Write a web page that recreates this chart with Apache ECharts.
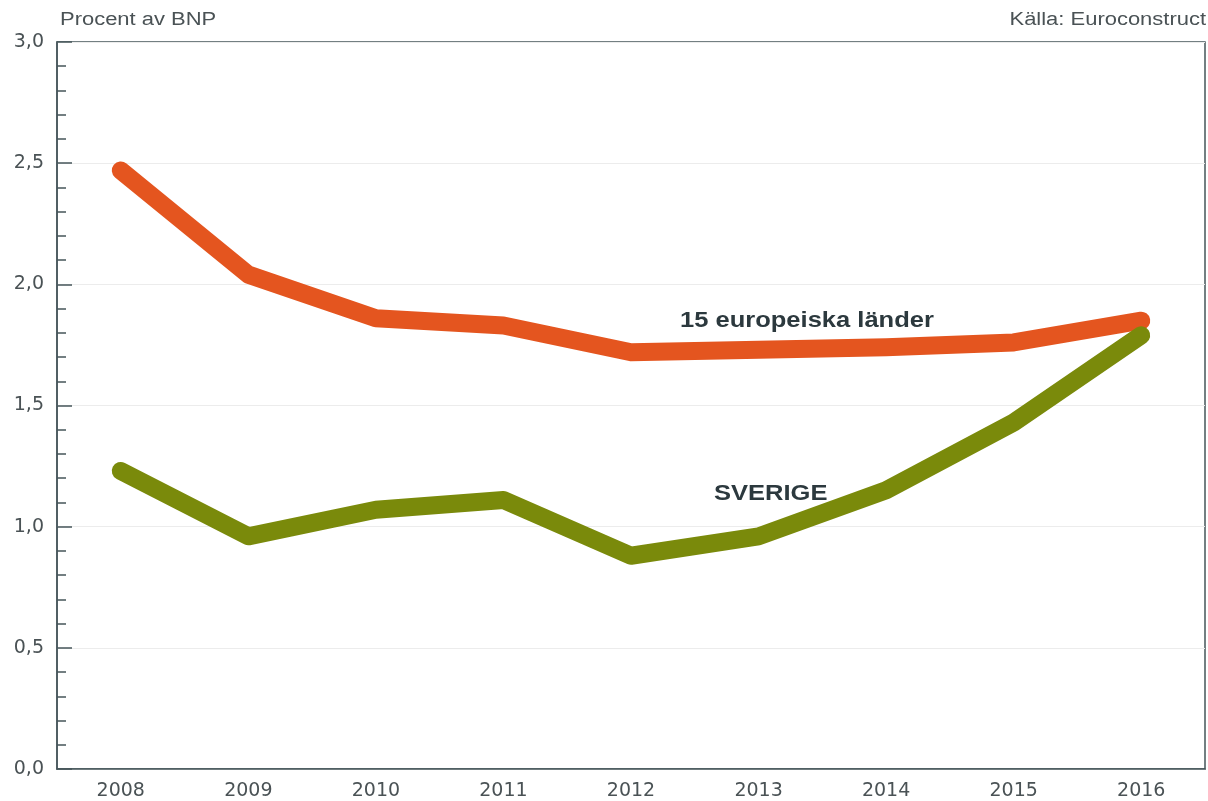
<!DOCTYPE html>
<html>
<head>
<meta charset="utf-8">
<script src="https://cdn.jsdelivr.net/npm/echarts@6/dist/echarts.min.js"></script>
<style>
  html, body { margin: 0; padding: 0; background: #fff; }
  #chart { width: 1208px; height: 801px; }
</style>
</head>
<body>
<div id="chart"></div>
<script>
// Byggnadsinvesteringar, procent av BNP
const years = ['2008', '2009', '2010', '2011', '2012', '2013', '2014', '2015', '2016'];
const europa15 = [2.47, 2.04, 1.86, 1.83, 1.72, 1.73, 1.74, 1.76, 1.85];
const sverige = [1.23, 0.96, 1.07, 1.11, 0.88, 0.96, 1.15, 1.43, 1.79];

const axisColor = '#46555a';
const textColor = '#4a5255';
const labelColor = '#2c393e';
const font = '"Liberation Sans", Arial, sans-serif';
const tickFont = '"DejaVu Sans", sans-serif';

const chart = echarts.init(document.getElementById('chart'), null, { renderer: 'canvas' });
chart.setOption({
  animation: false,
  backgroundColor: '#ffffff',
  grid: {
    left: 57, right: 3, top: 42, bottom: 32,
    outerBoundsMode: 'none', containLabel: false,
    show: true, borderColor: axisColor, borderWidth: 1.5
  },
  xAxis: {
    type: 'category',
    data: years,
    boundaryGap: true,
    axisLine: { lineStyle: { color: axisColor, width: 1.5 } },
    axisTick: { inside: true, alignWithLabel: true, length: 14, lineStyle: { color: axisColor, width: 1.5 } },
    axisLabel: { color: textColor, fontFamily: tickFont, fontSize: 19, margin: 13 },
    splitLine: { show: false }
  },
  yAxis: {
    type: 'value',
    min: 0,
    max: 3,
    interval: 0.5,
    axisLine: { show: true, lineStyle: { color: axisColor, width: 1.5 } },
    axisTick: { show: true, inside: true, length: 15, lineStyle: { color: axisColor, width: 1.5 } },
    minorTick: { show: true, splitNumber: 5, length: 9, lineStyle: { color: axisColor, width: 1.5 } },
    axisLabel: {
      color: textColor, fontFamily: tickFont, fontSize: 19, margin: 13,
      formatter: v => v.toFixed(1).replace('.', ',')
    },
    splitLine: { show: true, lineStyle: { color: '#ececec', width: 1 } }
  },
  series: [
    {
      name: '15 europeiska länder',
      type: 'line',
      data: europa15,
      symbol: 'none',
      lineStyle: { color: '#e4551f', width: 18, cap: 'round', join: 'round' },
      z: 3
    },
    {
      name: 'SVERIGE',
      type: 'line',
      data: sverige,
      symbol: 'none',
      lineStyle: { color: '#7a8a0b', width: 18, cap: 'round', join: 'round' },
      z: 4
    }
  ],
  graphic: [
    { type: 'text', x: 60, y: 11, scaleX: 1.22, style: { text: 'Procent av BNP', fill: textColor, font: '18px ' + font } },
    { type: 'text', x: 1206, y: 11, scaleX: 1.22, style: { text: 'Källa: Euroconstruct', fill: textColor, font: '18px ' + font, align: 'right' } },
    { type: 'text', x: 680, y: 310, scaleX: 1.16, style: { text: '15 europeiska länder', fill: labelColor, font: 'bold 22px ' + font } },
    { type: 'text', x: 714, y: 483, scaleX: 1.16, style: { text: 'SVERIGE', fill: labelColor, font: 'bold 22px ' + font } }
  ]
});
</script>
</body>
</html>
